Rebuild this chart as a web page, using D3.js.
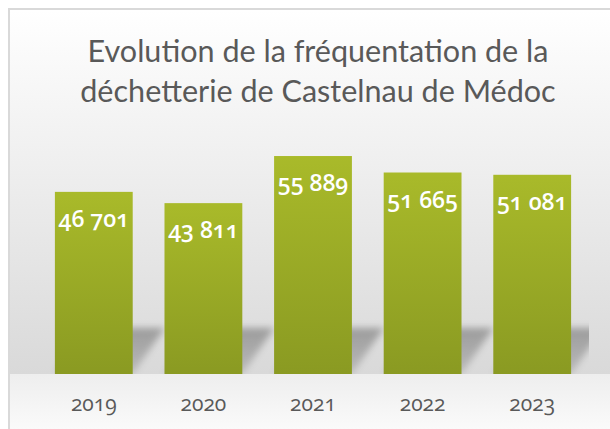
<!DOCTYPE html>
<html>
<head>
<meta charset="utf-8">
<script src="https://cdn.jsdelivr.net/npm/d3@7"></script>
<style>
  html, body { margin: 0; padding: 0; background: #fff; }
  svg { display: block; font-family: "Open Sans", "Noto Sans", sans-serif; }
</style>
</head>
<body>
<div id="chart"></div>
<script>
// data
const years = ["2019", "2020", "2021", "2022", "2023"]
const visits = [46701, 43811, 55889, 51665, 51081]
const title = ["Evolution de la fréquentation de la", "déchetterie de Castelnau de Médoc"]

const width = 610
const height = 429
const plot = { left: 39, right: 587, top: 140, bottom: 374 }

const fr = d3.formatLocale({ decimal: ",", thousands: " ", grouping: [3], currency: ["", " €"] })
const fmt = fr.format(",d")

var svg = d3.select("#chart")
  .append("svg")
  .attr("width", width)
  .attr("height", height)

var defs = svg.append("defs")

// background of chart area
var bg = defs.append("linearGradient")
  .attr("id", "bg")
  .attr("gradientUnits", "userSpaceOnUse")
  .attr("x1", 0).attr("y1", 10).attr("x2", 0).attr("y2", height)
bg.append("stop").attr("offset", 0).attr("stop-color", "#ffffff")
bg.append("stop").attr("offset", (plot.bottom - 10) / (height - 10)).attr("stop-color", "#d9d9d9")
bg.append("stop").attr("offset", (plot.bottom - 10) / (height - 10) + 0.001).attr("stop-color", "#eeeeee")
bg.append("stop").attr("offset", 1).attr("stop-color", "#fafafa")

var barFill = defs.append("linearGradient")
  .attr("id", "barFill")
  .attr("x1", 0).attr("y1", 0).attr("x2", 0).attr("y2", 1)
barFill.append("stop").attr("offset", 0).attr("stop-color", "#a9ba2a")
barFill.append("stop").attr("offset", 1).attr("stop-color", "#8a9a22")

var shadeFill = defs.append("linearGradient")
  .attr("id", "shadeFill")
  .attr("x1", 0).attr("y1", 0).attr("x2", 0).attr("y2", 1)
shadeFill.append("stop").attr("offset", 0).attr("stop-color", "#000").attr("stop-opacity", 0.3)
shadeFill.append("stop").attr("offset", 1).attr("stop-color", "#000").attr("stop-opacity", 0.14)

defs.append("filter").attr("id", "blur")
  .attr("x", "-30%").attr("y", "-30%").attr("width", "160%").attr("height", "160%")
  .append("feGaussianBlur").attr("stdDeviation", 3.5)

defs.append("clipPath").attr("id", "plotClip")
  .append("rect")
  .attr("x", plot.left - 10).attr("y", plot.top)
  .attr("width", 589 - plot.left + 10).attr("height", plot.bottom - plot.top)

svg.append("rect")
  .attr("x", 9).attr("y", 9)
  .attr("width", width).attr("height", height)
  .attr("fill", "url(#bg)")
  .attr("stroke", "#d9d9d9")
  .attr("stroke-width", 2)

// scales
var x = d3.scaleBand()
  .domain(years)
  .range([plot.left, plot.right])
  .paddingInner(0.29)
  .paddingOuter(0.145)

var y = d3.scaleLinear()
  .domain([0, 60000])
  .range([plot.bottom, plot.top])

var rows = years.map((yr, i) => ({ year: yr, value: visits[i] }))

// perspective shadows behind the bars
svg.append("g")
  .attr("clip-path", "url(#plotClip)")
  .selectAll("path")
  .data(rows)
  .enter().append("path")
  .attr("d", d => {
    const x0 = x(d.year), x1 = x0 + x.bandwidth(), yb = y(0)
    return "M" + x0 + "," + yb + "L" + x1 + "," + yb +
      "L" + (x1 + 32) + "," + (yb - 46) + "L" + (x0 + 32) + "," + (yb - 46) + "Z"
  })
  .attr("fill", "url(#shadeFill)")
  .attr("filter", "url(#blur)")

// bars
svg.append("g")
  .selectAll("rect")
  .data(rows)
  .enter().append("rect")
  .attr("x", d => x(d.year))
  .attr("y", d => y(d.value))
  .attr("width", x.bandwidth())
  .attr("height", d => y(0) - y(d.value))
  .attr("fill", "url(#barFill)")

// value labels
svg.append("g")
  .selectAll("text")
  .data(rows)
  .enter().append("text")
  .attr("x", d => x(d.year) + x.bandwidth() / 2)
  .attr("y", d => y(d.value) + 35)
  .attr("text-anchor", "middle")
  .attr("fill", "#fff")
  .attr("font-size", 23)
  .attr("font-weight", 600)
  .style("font-variant-numeric", "oldstyle-nums")
  .text(d => fmt(d.value))

// category axis
var xAxis = svg.append("g")
  .attr("transform", "translate(0," + plot.bottom + ")")
  .call(d3.axisBottom(x).tickSize(0).tickPadding(22))
xAxis.select(".domain").remove()
xAxis.attr("font-size", null).attr("font-family", null)
xAxis.selectAll("text")
  .attr("fill", "#595959")
  .style("font-size", "21px")
  .style("font-family", "'Open Sans', sans-serif")
  .style("font-variant-numeric", "oldstyle-nums")

// title, sized so the first line spans the same width as in the picture
var titleText = svg.append("g")
  .selectAll("text")
  .data(title)
  .enter().append("text")
  .attr("x", 318)
  .attr("y", (d, i) => 62 + i * 40)
  .attr("text-anchor", "middle")
  .attr("fill", "#595959")
  .style("font-family", "Lato, 'Open Sans', sans-serif")
  .style("font-size", "31px")
  .text(d => d)

var w0 = titleText.nodes()[0].getComputedTextLength()
titleText.style("font-size", (31 * 461 / w0) + "px")
</script>
</body>
</html>
